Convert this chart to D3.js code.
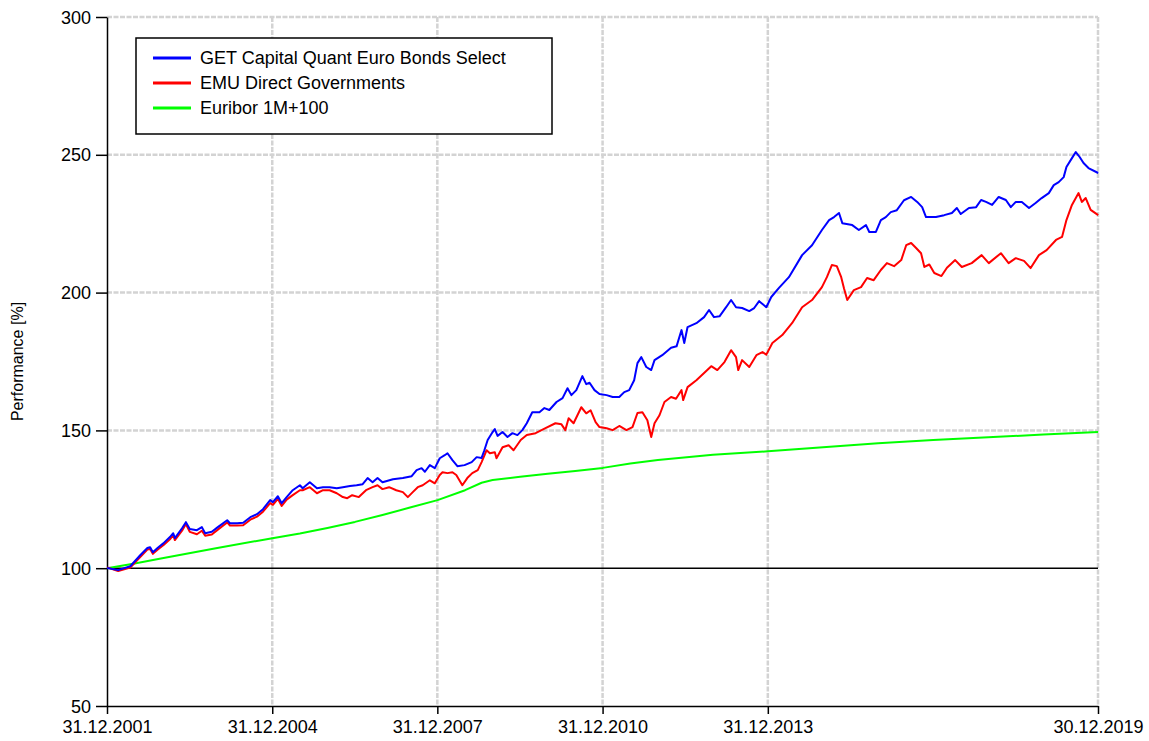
<!DOCTYPE html>
<html>
<head>
<meta charset="utf-8">
<title>Performance</title>
<script src="https://cdn.jsdelivr.net/npm/d3@7"></script>
<style>
	body { margin: 0; background: #fff; }
	svg { font-family: Arial, 'Liberation Sans', sans-serif; }
	.grid line { stroke: #d3d3d3; stroke-width: 2.5; stroke-dasharray: 5,1.5; }
	.axis path, .axis line { stroke: #000; stroke-width: 1.5; }
	.axis text { font-size: 18px; fill: #000; }
</style>
</head>
<body>
<div id="chart"></div>
<script>
// values, dates as decimal years
const fundYears = [2001.999, 2002.20, 2002.42, 2002.60, 2002.73, 2002.78, 2002.83, 2002.92, 2003.02, 2003.14,
	2003.20, 2003.23, 2003.36, 2003.43, 2003.50, 2003.63, 2003.72, 2003.78, 2003.90, 2004.01,
	2004.18, 2004.23, 2004.36, 2004.47, 2004.60, 2004.72, 2004.83, 2004.96, 2005.01, 2005.10,
	2005.17, 2005.26, 2005.37, 2005.50, 2005.55, 2005.68, 2005.81, 2005.92, 2006.04, 2006.17,
	2006.28, 2006.41, 2006.53, 2006.64, 2006.73, 2006.82, 2006.91, 2007.00, 2007.19, 2007.37,
	2007.53, 2007.62, 2007.71, 2007.77, 2007.86, 2007.95, 2008.04, 2008.13, 2008.18, 2008.27,
	2008.36, 2008.49, 2008.62, 2008.71, 2008.80, 2008.85, 2008.91, 2009.00, 2009.04, 2009.09,
	2009.18, 2009.27, 2009.36, 2009.45, 2009.54, 2009.62, 2009.72, 2009.85, 2009.94, 2010.03,
	2010.16, 2010.27, 2010.36, 2010.43, 2010.52, 2010.63, 2010.70, 2010.76, 2010.85, 2010.94,
	2011.07, 2011.18, 2011.30, 2011.39, 2011.48, 2011.57, 2011.63, 2011.70, 2011.79, 2011.88,
	2011.94, 2012.08, 2012.24, 2012.34, 2012.43, 2012.48, 2012.54, 2012.70, 2012.84, 2012.93,
	2013.02, 2013.12, 2013.24, 2013.33, 2013.42, 2013.53, 2013.66, 2013.75, 2013.84, 2013.97,
	2014.06, 2014.20, 2014.38, 2014.62, 2014.80, 2014.98, 2015.11, 2015.20, 2015.29, 2015.35,
	2015.53, 2015.65, 2015.78, 2015.84, 2015.96, 2016.05, 2016.14, 2016.23, 2016.34, 2016.47,
	2016.60, 2016.71, 2016.80, 2016.87, 2017.05, 2017.20, 2017.34, 2017.43, 2017.50, 2017.65,
	2017.78, 2017.87, 2017.96, 2018.07, 2018.19, 2018.32, 2018.41, 2018.50, 2018.61, 2018.74,
	2018.86, 2018.97, 2019.10, 2019.19, 2019.28, 2019.37, 2019.42, 2019.52, 2019.59, 2019.66,
	2019.73, 2019.82, 2019.997];
const fundValues = [100.1, 99.3, 100.7, 104.7, 107.3, 107.6, 105.8, 107.4, 109.0, 111.3,
	112.7, 110.9, 114.5, 116.7, 114.2, 113.8, 114.9, 112.7, 113.2, 114.9,
	117.4, 116.3, 116.3, 116.5, 118.5, 119.6, 121.4, 124.7, 124.0, 126.1,
	123.6, 125.8, 128.3, 130.1, 129.0, 131.2, 129.0, 129.4, 129.4, 129.0,
	129.4, 129.8, 130.1, 130.5, 132.7, 131.2, 132.7, 131.2, 132.3, 132.7,
	133.4, 135.6, 136.3, 135.0, 137.4, 136.3, 139.9, 141.0, 141.7, 139.2,
	137.0, 137.4, 138.5, 140.3, 140.0, 142.8, 146.5, 149.4, 150.5, 148.0,
	149.4, 147.6, 149.0, 148.3, 150.1, 152.6, 156.6, 156.6, 158.1, 157.4,
	160.3, 161.7, 165.3, 162.8, 164.6, 169.7, 166.8, 167.3, 164.6, 163.2,
	162.8, 162.1, 162.1, 163.9, 164.6, 168.2, 174.4, 176.6, 173.0, 171.9,
	175.5, 177.3, 180.0, 180.5, 186.4, 181.7, 187.5, 188.9, 191.1, 193.7,
	191.1, 191.4, 194.7, 197.3, 194.7, 194.4, 193.3, 194.4, 196.9, 194.7,
	198.4, 201.7, 205.6, 213.6, 217.2, 222.7, 226.3, 227.4, 228.9, 225.2,
	224.5, 222.7, 224.5, 222.0, 222.0, 226.3, 227.4, 229.2, 229.9, 233.5,
	234.7, 232.9, 231.0, 227.4, 227.4, 228.1, 228.9, 230.7, 228.5, 230.7,
	231.0, 233.6, 232.9, 231.8, 234.7, 233.6, 231.0, 232.9, 232.9, 230.7,
	232.5, 234.3, 236.1, 239.0, 240.1, 241.9, 245.6, 248.8, 251.0, 249.2,
	247.0, 245.2, 243.4];

const emuYears = [2001.999, 2002.20, 2002.42, 2002.60, 2002.73, 2002.78, 2002.83, 2002.92, 2003.02, 2003.14,
	2003.20, 2003.23, 2003.36, 2003.43, 2003.50, 2003.63, 2003.72, 2003.78, 2003.90, 2004.01,
	2004.18, 2004.23, 2004.36, 2004.47, 2004.60, 2004.72, 2004.83, 2004.96, 2005.01, 2005.10,
	2005.17, 2005.26, 2005.37, 2005.50, 2005.55, 2005.68, 2005.81, 2005.92, 2006.04, 2006.17,
	2006.28, 2006.36, 2006.45, 2006.57, 2006.70, 2006.82, 2006.91, 2007.00, 2007.12, 2007.25,
	2007.37, 2007.46, 2007.55, 2007.64, 2007.73, 2007.86, 2007.95, 2008.04, 2008.09, 2008.18,
	2008.27, 2008.34, 2008.45, 2008.54, 2008.63, 2008.73, 2008.80, 2008.89, 2008.95, 2009.04,
	2009.07, 2009.18, 2009.29, 2009.38, 2009.51, 2009.62, 2009.78, 2009.96, 2010.14, 2010.25,
	2010.32, 2010.38, 2010.47, 2010.61, 2010.70, 2010.78, 2010.87, 2010.94, 2011.07, 2011.18,
	2011.30, 2011.43, 2011.54, 2011.63, 2011.72, 2011.81, 2011.88, 2011.94, 2012.03, 2012.12,
	2012.24, 2012.33, 2012.43, 2012.46, 2012.54, 2012.70, 2012.84, 2012.97, 2013.08, 2013.21,
	2013.33, 2013.42, 2013.46, 2013.53, 2013.66, 2013.79, 2013.90, 2013.97, 2014.08, 2014.26,
	2014.44, 2014.62, 2014.80, 2014.98, 2015.07, 2015.16, 2015.25, 2015.33, 2015.38, 2015.44,
	2015.56, 2015.69, 2015.80, 2015.92, 2016.05, 2016.16, 2016.29, 2016.42, 2016.51, 2016.60,
	2016.69, 2016.78, 2016.84, 2016.93, 2017.02, 2017.15, 2017.25, 2017.40, 2017.52, 2017.70,
	2017.88, 2018.01, 2018.23, 2018.37, 2018.50, 2018.65, 2018.77, 2018.92, 2019.06, 2019.23,
	2019.34, 2019.42, 2019.52, 2019.64, 2019.70, 2019.77, 2019.86, 2019.997];
const emuValues = [100.3, 99.0, 100.2, 104.0, 106.8, 107.0, 105.2, 106.8, 108.3, 110.5,
	112.0, 110.2, 113.6, 116.0, 113.2, 112.3, 113.6, 111.8, 112.2, 114.0,
	116.6, 115.5, 115.5, 115.6, 117.6, 118.7, 120.5, 123.6, 123.0, 125.2,
	122.6, 124.9, 126.5, 128.3, 128.3, 129.4, 127.2, 128.3, 128.3, 127.2,
	125.8, 125.4, 126.5, 125.8, 128.3, 129.4, 130.1, 128.7, 129.4, 128.3,
	127.6, 125.8, 127.6, 129.4, 130.1, 131.9, 130.8, 133.8, 134.8, 134.5,
	134.8, 133.8, 130.1, 132.7, 134.5, 135.6, 138.5, 142.8, 141.7, 142.1,
	139.9, 143.9, 144.6, 142.8, 146.5, 148.3, 149.0, 150.8, 152.6, 152.2,
	150.1, 154.4, 152.6, 158.4, 156.2, 157.3, 153.0, 151.2, 150.8, 150.1,
	151.6, 150.1, 151.2, 156.3, 156.6, 153.7, 147.6, 152.6, 155.5, 160.3,
	162.1, 161.5, 164.6, 161.0, 165.7, 168.2, 170.8, 173.3, 171.9, 174.8,
	179.1, 176.6, 171.9, 175.5, 173.0, 177.3, 178.4, 177.5, 181.7, 184.6,
	189.0, 194.7, 197.3, 202.0, 205.6, 210.0, 209.6, 205.6, 201.6, 197.3,
	200.9, 202.0, 205.3, 204.5, 208.2, 210.7, 209.6, 211.8, 217.2, 218.0,
	216.2, 214.3, 209.3, 210.2, 207.1, 206.0, 209.0, 211.8, 209.3, 210.7,
	213.6, 210.7, 214.3, 210.7, 212.5, 211.5, 208.9, 213.6, 215.4, 219.1,
	220.2, 226.3, 231.8, 236.1, 232.9, 234.3, 230.0, 228.1];

const euriborYears = [2001.999, 2002.50, 2003.00, 2004.00, 2005.00, 2005.50, 2006.00, 2006.50, 2007.00, 2007.50,
	2008.00, 2008.50, 2008.80, 2009.00, 2009.50, 2010.00, 2010.50, 2011.00, 2011.50, 2012.00,
	2013.00, 2014.00, 2015.00, 2016.00, 2017.00, 2018.00, 2019.00, 2019.997];
const euriborValues = [100.0, 101.7, 103.6, 107.3, 110.9, 112.6, 114.6, 116.8, 119.3, 122.0,
	124.7, 128.3, 131.0, 132.0, 133.2, 134.3, 135.3, 136.4, 138.0, 139.3,
	141.2, 142.4, 143.9, 145.3, 146.5, 147.5, 148.5, 149.4];

const seriesNames = ['GET Capital Quant Euro Bonds Select', 'EMU Direct Governments', 'Euribor 1M+100'];
const seriesColors = ['#0000ff', '#ff0000', '#00ff00'];

const xTickDates = ['2001-12-31', '2004-12-31', '2007-12-31', '2010-12-31', '2013-12-31', '2019-12-30'];
const xTickLabels = ['31.12.2001', '31.12.2004', '31.12.2007', '31.12.2010', '31.12.2013', '30.12.2019'];
const yTicks = [50, 100, 150, 200, 250, 300];

function toDate(y) {
	return new Date(Date.UTC(2002, 0, 1) + (y - 2002) * 365.25 * 864e5);
}
function parseDay(s) {
	const p = s.split('-').map(Number);
	return new Date(Date.UTC(p[0], p[1] - 1, p[2]));
}

const margin = { top: 17, right: 51, bottom: 35, left: 107 },
	width = 1149 - margin.left - margin.right,
	height = 741 - margin.top - margin.bottom;

const svg = d3.select('#chart').append('svg')
	.attr('width', 1149)
	.attr('height', 741);

const g = svg.append('g')
	.attr('transform', 'translate(' + margin.left + ',' + margin.top + ')');

const xScale = d3.scaleTime()
	.domain([parseDay('2001-12-31'), parseDay('2019-12-30')])
	.range([0, width]);

const yScale = d3.scaleLinear()
	.domain([50, 300])
	.range([height, 0]);

// grid
const grid = g.append('g').attr('class', 'grid');
grid.selectAll('.hline')
	.data(yTicks.filter(d => d > 100))
	.enter().append('line')
	.attr('x1', 0).attr('x2', width)
	.attr('y1', d => yScale(d)).attr('y2', d => yScale(d));
grid.selectAll('.vline')
	.data(xTickDates.slice(1))
	.enter().append('line')
	.attr('x1', d => xScale(parseDay(d))).attr('x2', d => xScale(parseDay(d)))
	.attr('y1', 0).attr('y2', height);

// reference line at 100
g.append('line')
	.attr('x1', 0).attr('x2', width)
	.attr('y1', yScale(100)).attr('y2', yScale(100))
	.style('stroke', '#000')
	.style('stroke-width', 1.5);

// axes
g.append('g')
	.attr('class', 'axis')
	.call(d3.axisLeft(yScale).tickValues(yTicks).tickSize(11).tickPadding(5).tickSizeOuter(0))
	.call(a => a.selectAll('text').attr('dy', '0.34em'));

g.append('g')
	.attr('class', 'axis')
	.attr('transform', 'translate(0,' + height + ')')
	.call(d3.axisBottom(xScale)
		.tickValues(xTickDates.map(parseDay))
		.tickFormat((d, i) => xTickLabels[i])
		.tickSize(8).tickPadding(6).tickSizeOuter(0));

// lines
const line = d3.line()
	.x(d => xScale(d[0]))
	.y(d => yScale(d[1]));

const series = [
	d3.zip(fundYears.map(toDate), fundValues),
	d3.zip(emuYears.map(toDate), emuValues),
	d3.zip(euriborYears.map(toDate), euriborValues)
];

// draw green first, then red, blue on top
[2, 1, 0].forEach(i => {
	g.append('path')
		.datum(series[i])
		.attr('d', line)
		.style('fill', 'none')
		.style('stroke', seriesColors[i])
		.style('stroke-width', 2)
		.style('stroke-linejoin', 'round');
});

// y label
svg.append('text')
	.attr('transform', 'translate(23,' + (margin.top + yScale(175)) + ') rotate(-90)')
	.attr('text-anchor', 'middle')
	.style('font-size', '16px')
	.text('Performance [%]');

// legend
const legend = svg.append('g');
legend.append('rect')
	.attr('x', 136).attr('y', 38)
	.attr('width', 416).attr('height', 96)
	.style('fill', '#fff')
	.style('stroke', '#000')
	.style('stroke-width', 1.5);

seriesNames.forEach((name, i) => {
	const y = 58 + i * 25;
	legend.append('line')
		.attr('x1', 153).attr('x2', 191)
		.attr('y1', y).attr('y2', y)
		.style('stroke', seriesColors[i])
		.style('stroke-width', 3);
	legend.append('text')
		.attr('x', 200).attr('y', y)
		.attr('dy', '0.35em')
		.style('font-size', '18px')
		.text(name);
});
</script>
</body>
</html>
